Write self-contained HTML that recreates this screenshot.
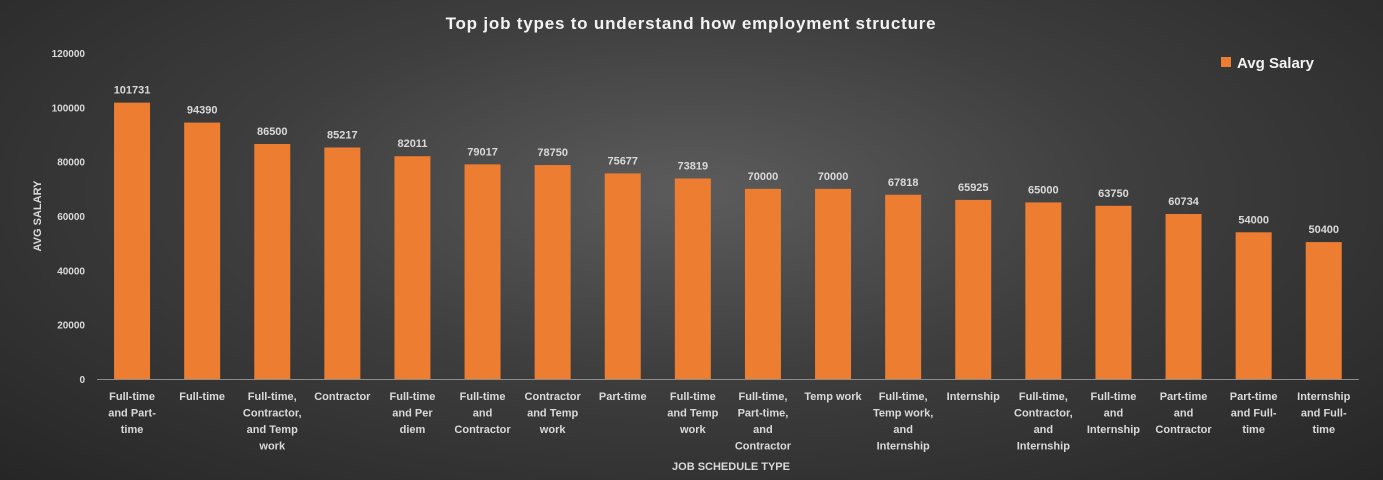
<!DOCTYPE html>
<html><head><meta charset="utf-8"><style>
html,body{margin:0;padding:0;width:1383px;height:480px;overflow:hidden;}
body{background:radial-gradient(ellipse at 50% 40%,#5c5c5c 0%,#3e3e3e 45%,#262626 100%);font-family:"Liberation Sans",sans-serif;}
svg text{font-family:"Liberation Sans",sans-serif;font-weight:bold;}
</style></head><body>
<svg id="chart" width="1383" height="480" xmlns="http://www.w3.org/2000/svg">
<text x="691" y="29" text-anchor="middle" font-size="17" fill="#f2f2f2" letter-spacing="0.8">Top job types to understand how employment structure</text>
<g id="legend">
<rect x="1221" y="57" width="10" height="10" fill="#ed7d31"/>
<text x="1237" y="68" font-size="15" fill="#f2f2f2">Avg Salary</text>
</g>
<text transform="translate(41,216) rotate(-90)" text-anchor="middle" font-size="11" fill="#d9d9d9">AVG SALARY</text>
<text x="731" y="470" text-anchor="middle" font-size="11" fill="#d9d9d9">JOB SCHEDULE TYPE</text>
<g id="yticks"></g><g id="bars"></g><g id="xlabels"></g>
</svg>
<script>
const categories=[["Full-time","and Part-","time"],["Full-time"],["Full-time,","Contractor,","and Temp","work"],["Contractor"],["Full-time","and Per","diem"],["Full-time","and","Contractor"],["Contractor","and Temp","work"],["Part-time"],["Full-time","and Temp","work"],["Full-time,","Part-time,","and","Contractor"],["Temp work"],["Full-time,","Temp work,","and","Internship"],["Internship"],["Full-time,","Contractor,","and","Internship"],["Full-time","and","Internship"],["Part-time","and","Contractor"],["Part-time","and Full-","time"],["Internship","and Full-","time"]];
const salaries=[101731,94390,86500,85217,82011,79017,78750,75677,73819,70000,70000,67818,65925,65000,63750,60734,54000,50400];
const yTicks=[0,20000,40000,60000,80000,100000,120000];
const NS="http://www.w3.org/2000/svg";
const y0=379,yTop=53,yMax=120000;
const yScale=v=>y0-(v/yMax)*(y0-yTop);
const x0=97,step=70.1;
const xCenter=i=>x0+step*(i+0.5);
function mk(tag,attrs,parent){const e=document.createElementNS(NS,tag);for(const k in attrs)e.setAttribute(k,attrs[k]);parent.appendChild(e);return e;}
const yt=document.getElementById('yticks');
yTicks.forEach(v=>{const t=mk('text',{x:85,y:yScale(v)+4,'text-anchor':'end','font-size':10,fill:'#d9d9d9'},yt);


t.textContent=v;});
const axis=mk('line',{x1:x0,x2:x0+step*categories.length,y1:y0+0.5,y2:y0+0.5,stroke:'#8c8c8c','stroke-width':1},yt);


const bg=document.getElementById('bars');
const xl=document.getElementById('xlabels');
salaries.forEach((v,i)=>{const cx=xCenter(i),w=36;
const r=mk('rect',{x:cx-w/2,y:yScale(v),width:w,height:y0-yScale(v),fill:'#ed7d31'},bg);


const l=mk('text',{x:cx,y:yScale(v)-9,'text-anchor':'middle','font-size':11,fill:'#d9d9d9'},bg);


l.textContent=v;
categories[i].forEach((line,j)=>{const t=mk('text',{x:cx,y:400+j*16.5,'text-anchor':'middle','font-size':11,fill:'#d9d9d9'},xl);


t.textContent=line;});
});
</script>
</body></html>
